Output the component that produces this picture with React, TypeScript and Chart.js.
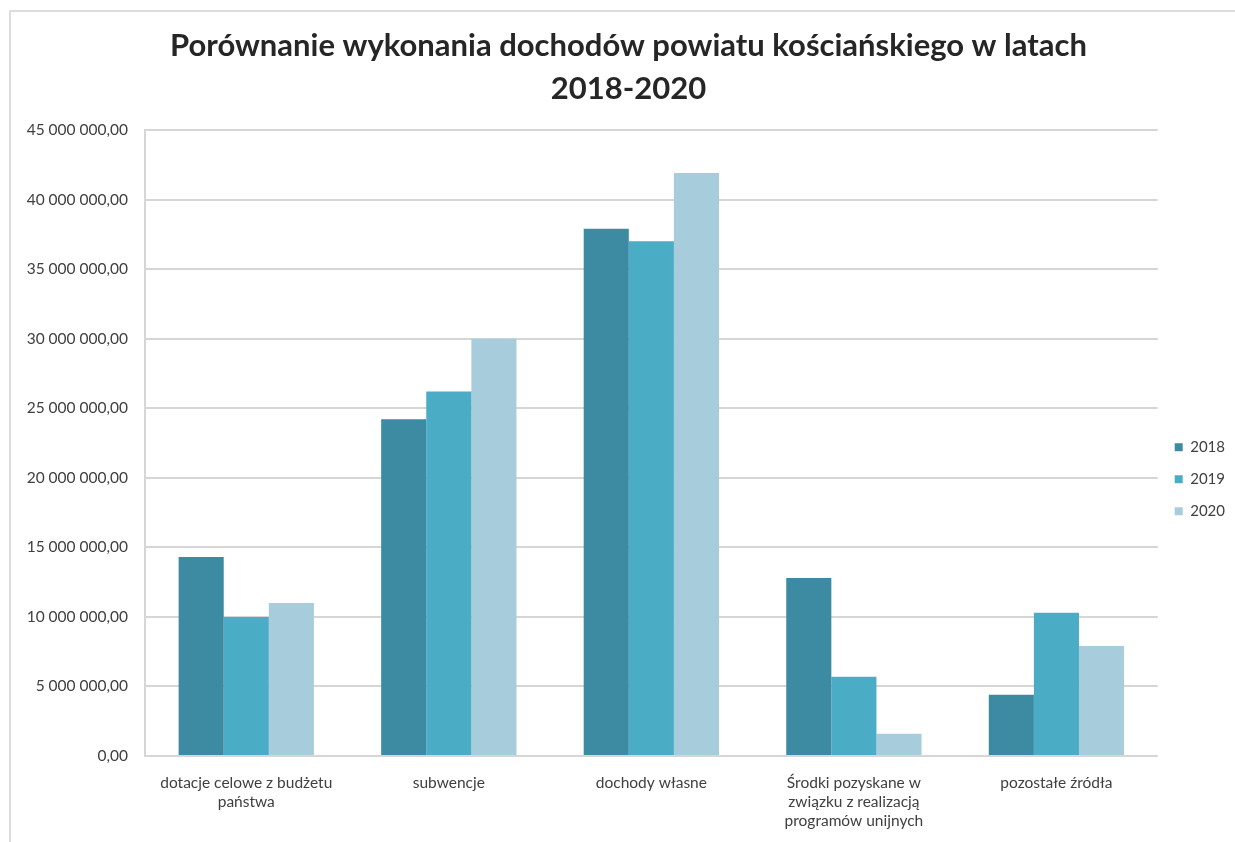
import React, { useEffect, useRef } from "react";
import { Chart, registerables } from "chart.js";

Chart.register(...registerables);

const categories: (string | string[])[] = [
  ["dotacje celowe z budżetu", "państwa"],
  "subwencje",
  "dochody własne",
  ["Środki pozyskane w", "związku z realizacją", "programów unijnych"],
  "pozostałe źródła",
];

const seriesNames = ["2018", "2019", "2020"];
const values2018 = [14300000, 24200000, 37900000, 12800000, 4400000];
const values2019 = [10000000, 26200000, 37000000, 5700000, 10300000];
const values2020 = [11000000, 30000000, 41900000, 1600000, 7900000];
const seriesColors = ["#3c8ba3", "#4bacc6", "#a7cddc"];

const titleLines = [
  "Porównanie wykonania dochodów powiatu kościańskiego w latach",
  "2018-2020",
];

const yMax = 45000000;
const yStep = 5000000;

function formatPl(v: number): string {
  const s = Math.round(v).toString().replace(/\B(?=(\d{3})+(?!\d))/g, " ");
  return s + ",00";
}

export default function App() {
  const ref = useRef<HTMLCanvasElement | null>(null);

  useEffect(() => {
    if (!ref.current) return;
    const chart = new Chart(ref.current, {
      type: "bar",
      data: {
        labels: categories,
        datasets: [values2018, values2019, values2020].map((d, i) => ({
          label: seriesNames[i],
          data: d,
          backgroundColor: seriesColors[i],
          borderWidth: 0,
          categoryPercentage: 0.668,
          barPercentage: 1,
        })),
      },
      options: {
        animation: false,
        responsive: false,
        maintainAspectRatio: false,
        layout: { padding: { top: 0, left: 22, right: 0, bottom: 10 } },
        plugins: {
          tooltip: { enabled: false },
          title: {
            display: true,
            text: titleLines,
            color: "#262626",
            font: { family: "Lato", size: 31, weight: "bold", lineHeight: 1.387 },
            padding: { top: 25, bottom: 19 },
          },
          legend: {
            position: "right",
            fullSize: false,
            align: "center",
            maxWidth: 80,
            title: { display: true, text: "", padding: { top: 58, bottom: 0 } },
            labels: {
              boxWidth: 8,
              boxHeight: 8,
              padding: 17,
              color: "#404040",
              font: { family: "Lato", size: 15 },
            },
          },
        },
        scales: {
          x: {
            grid: { display: false, drawTicks: false },
            border: { display: false },
            ticks: {
              color: "#404040",
              padding: 17,
              maxRotation: 0,
              autoSkip: false,
              font: { family: "Lato", size: 15.5, lineHeight: 1.25 },
            },
            afterFit: (scale: any) => {
              scale.height = 76;
            },
          },
          y: {
            min: 0,
            max: yMax,
            grid: { color: "#d6d6d6", lineWidth: 2, drawTicks: false },
            border: { display: true, color: "#d6d6d6", width: 2 },
            ticks: {
              stepSize: yStep,
              color: "#404040",
              padding: 17,
              font: { family: "Lato", size: 15.5 },
              callback: (v: any) => formatPl(Number(v)),
            },
            afterFit: (scale: any) => {
              scale.width = 123;
            },
          },
        },
      },
    });
    return () => chart.destroy();
  }, []);

  return (
    <div
      style={{
        position: "fixed",
        left: 0,
        top: 0,
        width: 1235,
        height: 842,
        background: "#ffffff",
        overflow: "hidden",
      }}
    >
      <div
        style={{
          position: "absolute",
          left: 9,
          top: 10,
          right: 0,
          bottom: 0,
          borderTop: "2px solid #dcdcdc",
          borderLeft: "2px solid #dcdcdc",
        }}
      />
      <canvas
        ref={ref}
        width={1235}
        height={842}
        style={{ position: "absolute", left: 0, top: 0, width: 1235, height: 842 }}
      />
    </div>
  );
}
